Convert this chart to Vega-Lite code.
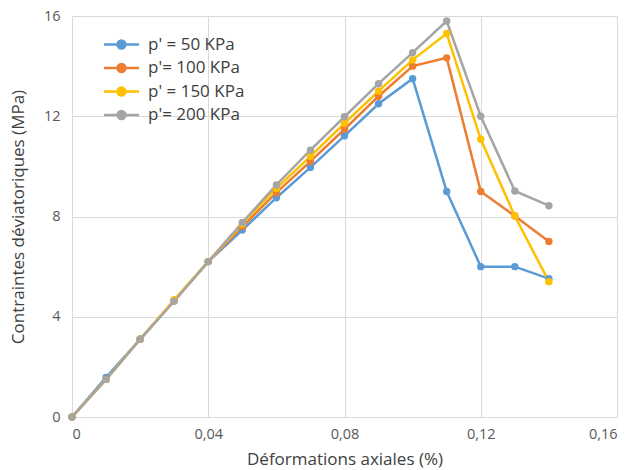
{
  "$schema": "https://vega.github.io/schema/vega-lite/v6.json",
  "width": 545,
  "height": 401,
  "autosize": "none",
  "padding": {"left": 72, "top": 16, "right": 16, "bottom": 53},
  "background": "white",
  "config": {
    "view": {"stroke": null},
    "font": "Open Sans",
    "axis": {"labelColor": "#595959", "titleColor": "#404040", "labelFont": "Open Sans", "titleFont": "Open Sans", "titleFontWeight": "normal"}
  },
  "data": {
    "values": [
      {"serie": "p' = 50 KPa", "x": 0, "y": 0},
      {"serie": "p' = 50 KPa", "x": 0.01, "y": 1.58},
      {"serie": "p' = 50 KPa", "x": 0.02, "y": 3.1},
      {"serie": "p' = 50 KPa", "x": 0.03, "y": 4.65},
      {"serie": "p' = 50 KPa", "x": 0.04, "y": 6.2},
      {"serie": "p' = 50 KPa", "x": 0.05, "y": 7.46},
      {"serie": "p' = 50 KPa", "x": 0.06, "y": 8.75},
      {"serie": "p' = 50 KPa", "x": 0.07, "y": 9.96},
      {"serie": "p' = 50 KPa", "x": 0.08, "y": 11.22},
      {"serie": "p' = 50 KPa", "x": 0.09, "y": 12.5},
      {"serie": "p' = 50 KPa", "x": 0.1, "y": 13.5},
      {"serie": "p' = 50 KPa", "x": 0.11, "y": 9.0},
      {"serie": "p' = 50 KPa", "x": 0.12, "y": 6.0},
      {"serie": "p' = 50 KPa", "x": 0.13, "y": 6.0},
      {"serie": "p' = 50 KPa", "x": 0.14, "y": 5.52},
      {"serie": "p'= 100 KPa", "x": 0, "y": 0},
      {"serie": "p'= 100 KPa", "x": 0.01, "y": 1.5},
      {"serie": "p'= 100 KPa", "x": 0.02, "y": 3.1},
      {"serie": "p'= 100 KPa", "x": 0.03, "y": 4.65},
      {"serie": "p'= 100 KPa", "x": 0.04, "y": 6.2},
      {"serie": "p'= 100 KPa", "x": 0.05, "y": 7.6},
      {"serie": "p'= 100 KPa", "x": 0.06, "y": 8.95},
      {"serie": "p'= 100 KPa", "x": 0.07, "y": 10.2},
      {"serie": "p'= 100 KPa", "x": 0.08, "y": 11.48},
      {"serie": "p'= 100 KPa", "x": 0.09, "y": 12.8},
      {"serie": "p'= 100 KPa", "x": 0.1, "y": 14.0},
      {"serie": "p'= 100 KPa", "x": 0.11, "y": 14.33},
      {"serie": "p'= 100 KPa", "x": 0.12, "y": 9.0},
      {"serie": "p'= 100 KPa", "x": 0.13, "y": 8.02},
      {"serie": "p'= 100 KPa", "x": 0.14, "y": 7.0},
      {"serie": "p' = 150 KPa", "x": 0, "y": 0},
      {"serie": "p' = 150 KPa", "x": 0.01, "y": 1.5},
      {"serie": "p' = 150 KPa", "x": 0.02, "y": 3.1},
      {"serie": "p' = 150 KPa", "x": 0.03, "y": 4.68},
      {"serie": "p' = 150 KPa", "x": 0.04, "y": 6.2},
      {"serie": "p' = 150 KPa", "x": 0.05, "y": 7.7},
      {"serie": "p' = 150 KPa", "x": 0.06, "y": 9.12},
      {"serie": "p' = 150 KPa", "x": 0.07, "y": 10.4},
      {"serie": "p' = 150 KPa", "x": 0.08, "y": 11.72},
      {"serie": "p' = 150 KPa", "x": 0.09, "y": 13.0},
      {"serie": "p' = 150 KPa", "x": 0.1, "y": 14.25},
      {"serie": "p' = 150 KPa", "x": 0.11, "y": 15.3},
      {"serie": "p' = 150 KPa", "x": 0.12, "y": 11.08},
      {"serie": "p' = 150 KPa", "x": 0.13, "y": 8.02},
      {"serie": "p' = 150 KPa", "x": 0.14, "y": 5.4},
      {"serie": "p'= 200 KPa", "x": 0, "y": 0},
      {"serie": "p'= 200 KPa", "x": 0.01, "y": 1.5},
      {"serie": "p'= 200 KPa", "x": 0.02, "y": 3.1},
      {"serie": "p'= 200 KPa", "x": 0.03, "y": 4.62},
      {"serie": "p'= 200 KPa", "x": 0.04, "y": 6.2},
      {"serie": "p'= 200 KPa", "x": 0.05, "y": 7.76},
      {"serie": "p'= 200 KPa", "x": 0.06, "y": 9.26},
      {"serie": "p'= 200 KPa", "x": 0.07, "y": 10.65},
      {"serie": "p'= 200 KPa", "x": 0.08, "y": 11.98},
      {"serie": "p'= 200 KPa", "x": 0.09, "y": 13.3},
      {"serie": "p'= 200 KPa", "x": 0.1, "y": 14.54},
      {"serie": "p'= 200 KPa", "x": 0.11, "y": 15.8},
      {"serie": "p'= 200 KPa", "x": 0.12, "y": 12.0},
      {"serie": "p'= 200 KPa", "x": 0.13, "y": 9.02},
      {"serie": "p'= 200 KPa", "x": 0.14, "y": 8.43}
    ]
  },
  "encoding": {
    "x": {
      "field": "x", "type": "quantitative",
      "scale": {"domain": [0, 0.16], "nice": false, "zero": true},
      "axis": {
        "title": "Déformations axiales (%)",
        "titleFontSize": 17, "titlePadding": 11,
        "values": [0, 0.04, 0.08, 0.12, 0.16],
        "labelExpr": "datum.value == 0 ? '0' : replace(format(datum.value, '.2f'), '.', ',')",
        "labelFontSize": 14.5, "labelPadding": 10,
        "ticks": false,
        "grid": true, "gridColor": "#D9D9D9", "gridWidth": 1,
        "domainColor": "#D9D9D9", "domainWidth": 1
      }
    },
    "y": {
      "field": "y", "type": "quantitative",
      "scale": {"domain": [0, 16], "nice": false},
      "axis": {
        "title": "Contraintes déviatoriques (MPa)",
        "titleFontSize": 17, "titlePadding": 16,
        "values": [0, 4, 8, 12, 16],
        "labelFontSize": 14.5, "labelPadding": 12,
        "ticks": false,
        "grid": true, "gridColor": "#D9D9D9", "gridWidth": 1,
        "domain": false
      }
    },
    "color": {
      "field": "serie", "type": "nominal",
      "scale": {
        "domain": ["p' = 50 KPa", "p'= 100 KPa", "p' = 150 KPa", "p'= 200 KPa"],
        "range": ["#5B9BD5", "#ED7D31", "#FFC000", "#A5A5A5"]
      },
      "legend": {
        "title": null,
        "orient": "none",
        "legendX": 37,
        "legendY": 16,
        "labelFontSize": 17,
        "labelFont": "Open Sans",
        "labelColor": "#404040",
        "symbolType": "M-1.6,0L1.6,0M0.36,0A0.36,0.36 0 1,1 -0.36,0A0.36,0.36 0 1,1 0.36,0Z",
        "symbolSize": 484,
        "symbolStrokeWidth": 2.5,
        "rowPadding": 1.5,
        "labelOffset": 14,
        "fillColor": null,
        "encode": {"symbols": {"update": {"fill": {"scale": "color", "field": "value"}}}}
      }
    },
    "order": {"field": "x", "type": "quantitative"}
  },
  "layer": [
    {"mark": {"type": "line", "strokeWidth": 2.5, "point": {"filled": true, "size": 55}}}
  ]
}
